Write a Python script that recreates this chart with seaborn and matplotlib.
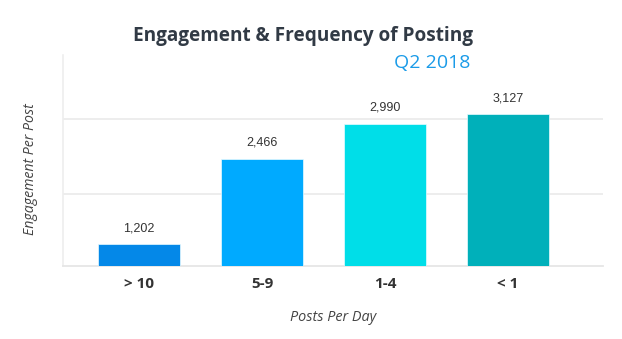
import matplotlib
matplotlib.use("Agg")
import matplotlib.pyplot as plt
import seaborn as sns
import pandas as pd

# Data
categories = ["> 10", "5-9", "1-4", "< 1"]
engagement = [1202, 2466, 2990, 3127]
bar_colors = ["#0488E8", "#00AAFF", "#00DEE8", "#00B0BA"]
title = "Engagement & Frequency of Posting"
subtitle = "Q2 2018"
x_label = "Posts Per Day"
y_label = "Engagement Per Post"
grid_values = [1940, 3057]

sns.set_theme(style="white")
plt.rcParams["font.family"] = ["Open Sans", "DejaVu Sans"]

df = pd.DataFrame({"posts": categories, "engagement": engagement})

fig = plt.figure(figsize=(6.22, 3.39), dpi=100)
ax = fig.add_axes([0.1013, 0.2168, 0.8682, 0.6210])

sns.barplot(data=df, x="posts", y="engagement", hue="posts",
            palette=bar_colors, saturation=1, width=0.667, legend=False,
            ax=ax, edgecolor="#e8fbff", linewidth=0.5, zorder=3)

ax.set_xlim(-0.618, 3.772)
ax.set_ylim(883, 4007)

# light horizontal guides
ax.set_yticks(grid_values)
ax.set_yticklabels([])
ax.tick_params(axis="y", length=0)
ax.yaxis.grid(True, color="#ececec", linewidth=1.3, zorder=0)

for side in ["top", "right"]:
    ax.spines[side].set_visible(False)
ax.spines["left"].set_color("#eeeeee")
ax.spines["left"].set_linewidth(1.2)
ax.spines["bottom"].set_color("#e6e6e6")
ax.spines["bottom"].set_linewidth(1.3)

ax.tick_params(axis="x", length=0, pad=8)
for lbl in ax.get_xticklabels():
    lbl.set_fontweight("bold")
    lbl.set_fontsize(11)
    lbl.set_color("#333333")

# value labels above each bar
for i, v in enumerate(engagement):
    ax.text(i, v + 235, f"{v:,}", ha="center", va="center",
            fontsize=9, color="#333333", family="Liberation Sans")

ax.set_xlabel(x_label, fontsize=10.4, style="italic", color="#444444", labelpad=14)
ax.set_ylabel(y_label, fontsize=10.2, style="italic", color="#444444")
ax.yaxis.set_label_coords(-0.047, 0.458)

fig.text(0.4875, 0.880, title, ha="center", va="baseline",
         fontsize=13.7, fontweight="bold", color="#313a45")
fig.text(0.757, 0.7985, subtitle, ha="right", va="baseline",
         fontsize=14, color="#1A9BE8")

fig.savefig("out.png", dpi=100)
